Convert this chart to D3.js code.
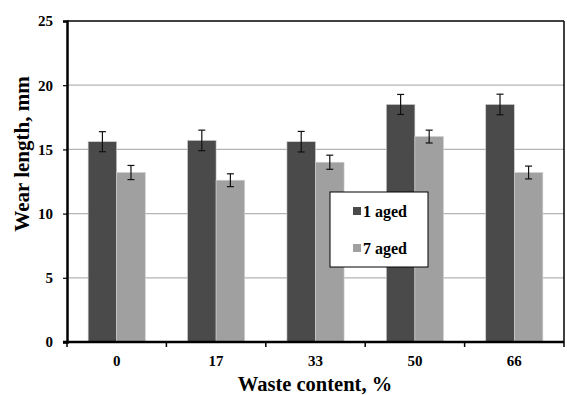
<!DOCTYPE html>
<html>
<head>
    <meta charset="utf-8" />
    <title>wear length chart</title>
    <script src="https://d3js.org/d3.v7.min.js"></script>
    <style>
        body { margin: 0; background: #fff; }
    </style>
</head>
<body>
    <svg id="chart" width="567" height="395"></svg>
<script>
    // values
    var categories = ['0', '17', '33', '50', '66'];
    var seriesNames = ['1 aged', '7 aged'];
    var aged1 = [15.6, 15.7, 15.6, 18.5, 18.5];
    var aged1Err = [0.78, 0.8, 0.8, 0.78, 0.8];
    var aged7 = [13.2, 12.6, 14.0, 16.0, 13.2];
    var aged7Err = [0.55, 0.5, 0.55, 0.5, 0.5];
    var yTicks = [0, 5, 10, 15, 20, 25];

    var colors = ['#4a4a4a', '#a0a0a0'];
    var FONT = "'Liberation Serif', 'DejaVu Serif', serif";

    var m = { left: 67, right: 3, top: 21, bottom: 53 };
    var W = 567, H = 395;
    var svg = d3.select('#chart');

    var x = d3.scaleBand().domain(categories)
        .range([m.left, W - m.right]);
    var xi = d3.scaleBand().domain(seriesNames)
        .range([0, x.bandwidth()]).paddingInner(0).paddingOuter(0.74);
    var y = d3.scaleLinear().domain([0, 25]).range([H - m.bottom, m.top]);

    // gridlines
    svg.append('g')
        .selectAll('line')
        .data(yTicks.filter(function(d) { return d > 0 && d < 25; }))
        .enter().append('line')
        .attr('x1', m.left).attr('x2', W - m.right)
        .attr('y1', function(d) { return y(d); })
        .attr('y2', function(d) { return y(d); })
        .attr('stroke', '#b4b4b4').attr('stroke-width', 1.2);

    // bars
    var rows = categories.map(function(c, i) {
        return [
            { cat: c, s: seriesNames[0], v: aged1[i], e: aged1Err[i], k: 0 },
            { cat: c, s: seriesNames[1], v: aged7[i], e: aged7Err[i], k: 1 }
        ];
    });
    var groups = svg.append('g').selectAll('g')
        .data(rows).enter().append('g')
        .attr('transform', function(d) { return 'translate(' + x(d[0].cat) + ',0)'; });

    groups.selectAll('rect')
        .data(function(d) { return d; })
        .enter().append('rect')
        .attr('x', function(d) { return xi(d.s); })
        .attr('width', xi.bandwidth())
        .attr('y', function(d) { return y(d.v); })
        .attr('height', function(d) { return y(0) - y(d.v); })
        .attr('fill', function(d) { return colors[d.k]; })
        .attr('stroke', '#d0d0d0').attr('stroke-width', 0.6);

    // error bars
    var eb = groups.selectAll('g.err')
        .data(function(d) { return d; })
        .enter().append('g').attr('class', 'err')
        .attr('stroke', '#111').attr('stroke-width', 1.2);
    eb.append('line')
        .attr('x1', function(d) { return xi(d.s) + xi.bandwidth() / 2; })
        .attr('x2', function(d) { return xi(d.s) + xi.bandwidth() / 2; })
        .attr('y1', function(d) { return y(d.v + d.e); })
        .attr('y2', function(d) { return y(d.v - d.e); });
    [1, -1].forEach(function(sgn) {
        eb.append('line')
            .attr('x1', function(d) { return xi(d.s) + xi.bandwidth() / 2 - 3.5; })
            .attr('x2', function(d) { return xi(d.s) + xi.bandwidth() / 2 + 3.5; })
            .attr('y1', function(d) { return y(d.v + sgn * d.e); })
            .attr('y2', function(d) { return y(d.v + sgn * d.e); });
    });

    // frame top / right
    svg.append('line').attr('x1', m.left).attr('x2', W - m.right)
        .attr('y1', m.top).attr('y2', m.top)
        .attr('stroke', '#000').attr('stroke-width', 1.5);
    svg.append('line').attr('x1', W - m.right).attr('x2', W - m.right)
        .attr('y1', m.top).attr('y2', H - m.bottom)
        .attr('stroke', '#000').attr('stroke-width', 1.5);

    // y axis
    var yAxis = svg.append('g')
        .attr('transform', 'translate(' + m.left + ',0)')
        .call(d3.axisLeft(y).tickValues(yTicks).tickSize(4).tickPadding(10));
    yAxis.attr('font-family', FONT).attr('font-size', 15).attr('font-weight', 'bold');
    yAxis.select('.domain').attr('stroke', '#000').attr('stroke-width', 2.5);
    yAxis.selectAll('.tick line').attr('stroke', '#000').attr('stroke-width', 1.2);
    yAxis.selectAll('text').attr('fill', '#000');

    // x axis: ticks at category boundaries
    var xAxisG = svg.append('g').attr('transform', 'translate(0,' + y(0) + ')')
        .attr('font-family', FONT).attr('font-weight', 'bold');
    xAxisG.append('line').attr('x1', m.left - 4).attr('x2', W - m.right)
        .attr('stroke', '#000').attr('stroke-width', 2.5);
    var bounds = categories.map(function(c) { return x(c); }).concat([x(categories[4]) + x.bandwidth()]);
    xAxisG.selectAll('line.tk').data(bounds).enter().append('line')
        .attr('class', 'tk')
        .attr('x1', function(d) { return d; }).attr('x2', function(d) { return d; })
        .attr('y1', 0).attr('y2', 5)
        .attr('stroke', '#000').attr('stroke-width', 1.5);
    xAxisG.selectAll('text').data(categories).enter().append('text')
        .attr('x', function(d) { return x(d) + x.bandwidth() / 2; })
        .attr('y', 24)
        .attr('text-anchor', 'middle')
        .attr('font-size', 15)
        .text(function(d) { return d; });

    // axis titles
    svg.append('text')
        .attr('x', 315).attr('y', 391)
        .attr('text-anchor', 'middle')
        .attr('font-family', FONT).attr('font-weight', 'bold')
        .attr('font-size', 20.5)
        .text('Waste content, %');
    svg.append('text')
        .attr('transform', 'translate(29,154) rotate(-90)')
        .attr('text-anchor', 'middle')
        .attr('font-family', FONT).attr('font-weight', 'bold')
        .attr('font-size', 21)
        .text('Wear length, mm');

    // legend
    var lg = svg.append('g').attr('transform', 'translate(330,192)')
        .attr('font-family', FONT).attr('font-weight', 'bold');
    lg.append('rect').attr('width', 98).attr('height', 75)
        .attr('fill', '#fff').attr('stroke', '#000').attr('stroke-width', 1);
    var li = lg.selectAll('g.li').data(seriesNames).enter().append('g')
        .attr('class', 'li')
        .attr('transform', function(d, i) { return 'translate(23,' + (19 + i * 37) + ')'; });
    li.append('rect').attr('x', 0).attr('y', -4).attr('width', 8).attr('height', 8)
        .attr('fill', function(d, i) { return colors[i]; });
    li.append('text').attr('x', 10).attr('y', 5.5)
        .attr('font-size', 16)
        .text(function(d) { return d; });
</script>
</body>
</html>
